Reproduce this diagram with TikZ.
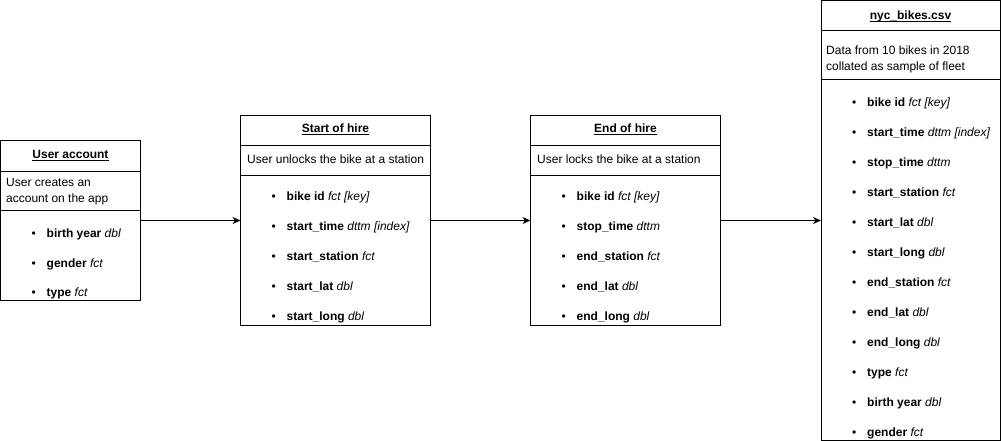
\documentclass[tikz,border=0pt]{standalone}
\usepackage{fontspec}
\setmainfont{Liberation Sans}
\usetikzlibrary{arrows.meta}
\newcommand{\myul}[1]{\leavevmode\setbox0\hbox{#1}\rlap{\rule[-2.2pt]{\wd0}{0.9pt}}\box0}
\newcommand{\fld}[2]{\makebox[15pt][l]{\textbullet}\textbf{#1} \textit{#2}}
\tikzset{
  box/.style={draw, line width=1pt, inner sep=0pt, outer sep=0pt, fill=white},
  txt/.style={inner sep=0pt, anchor=base west, font=\fontsize{12}{14}\selectfont},
  ttl/.style={inner sep=0pt, anchor=base, font=\fontsize{12}{14}\selectfont\bfseries},
  conn/.style={line width=1pt, -{Stealth[length=8pt,width=7pt,inset=2.5pt]}},
  divider/.style={line width=1pt}
}
\begin{document}
\begin{tikzpicture}[x=1pt,y=-1pt]
\useasboundingbox (0,0) rectangle (1001,441);
% boxes
\node[box, minimum width=140pt, minimum height=159pt] (ua) at (70.5,220.5) {};
\node[box, minimum width=190pt, minimum height=210pt] (soh) at (335.5,220.5) {};
\node[box, minimum width=190pt, minimum height=210pt] (eoh) at (625.5,220.5) {};
\node[box, minimum width=179pt, minimum height=439pt] (nyc) at (910.5,220.5) {};
% dividers
\draw[divider] (ua.west |- 0,171) -- (ua.east |- 0,171);
\draw[divider] (ua.west |- 0,210) -- (ua.east |- 0,210);
\draw[divider] (soh.west |- 0,146) -- (soh.east |- 0,146);
\draw[divider] (soh.west |- 0,175) -- (soh.east |- 0,175);
\draw[divider] (eoh.west |- 0,146) -- (eoh.east |- 0,146);
\draw[divider] (eoh.west |- 0,175) -- (eoh.east |- 0,175);
\draw[divider] (nyc.west |- 0,30.5) -- (nyc.east |- 0,30.5);
\draw[divider] (nyc.west |- 0,80) -- (nyc.east |- 0,80);
% titles
\node[ttl] (uat) at (70.5,158.3) {\myul{User account}};
\node[ttl] (soht) at (335.5,133) {\myul{Start of hire}};
\node[ttl] (eoht) at (625.5,133) {\myul{End of hire}};
\node[ttl] (nyct) at (910.5,19.3) {\myul{nyc\_bikes.csv}};
% descriptions
\node[txt] (uad1) at (6,186.7) {User creates an};
\node[txt] (uad2) at (6,202.7) {account on the app};
\node[txt] (sohd) at (247,163) {User unlocks the bike at a station};
\node[txt] (eohd) at (537,163) {User locks the bike at a station};
\node[txt] (nycd1) at (826,55) {Data from 10 bikes in 2018};
\node[txt] (nycd2) at (826,71) {collated as sample of fleet};
% fields
\foreach \a/\b [count=\i] in {birth year/dbl, gender/fct, type/fct}
  \node[txt] (ua-\i) at (31.5, 208.5+29.3*\i) {\fld{\a}{\b}};
\foreach \a/\b [count=\i] in {bike id/fct [key], start\_time/dttm [index], start\_station/fct, start\_lat/dbl, start\_long/dbl}
  \node[txt] (soh-\i) at (271.5, 170.5+30*\i) {\fld{\a}{\b}};
\foreach \a/\b [count=\i] in {bike id/fct [key], stop\_time/dttm, end\_station/fct, end\_lat/dbl, end\_long/dbl}
  \node[txt] (eoh-\i) at (561.5, 170.5+30*\i) {\fld{\a}{\b}};
\foreach \a/\b [count=\i] in {bike id/fct [key], start\_time/dttm [index], stop\_time/dttm, start\_station/fct, start\_lat/dbl, start\_long/dbl, end\_station/fct, end\_lat/dbl, end\_long/dbl, type/fct, birth year/dbl, gender/fct}
  \node[txt] (nyc-\i) at (852, 76.5+30*\i) {\fld{\a}{\b}};
% connectors
\draw[conn] (ua) -- (soh);
\draw[conn] (soh) -- (eoh);
\draw[conn] (eoh) -- (nyc);
\end{tikzpicture}
\end{document}
